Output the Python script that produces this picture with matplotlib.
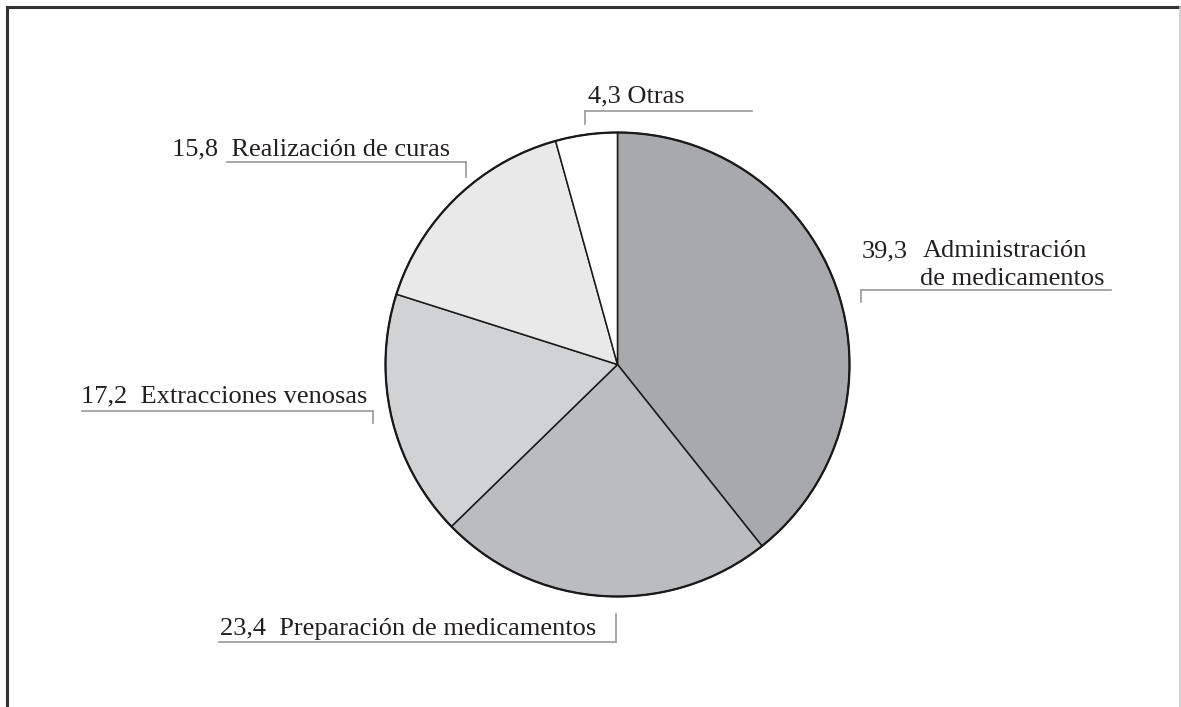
import matplotlib
matplotlib.use("Agg")
import matplotlib.pyplot as plt
from matplotlib.lines import Line2D

categories = ["Administración\nde medicamentos", "Preparación de medicamentos",
              "Extracciones venosas", "Realización de curas", "Otras"]
values = [39.3, 23.4, 17.2, 15.8, 4.3]
value_labels = ["39,3", "23,4", "17,2", "15,8", "4,3"]
colors = ["#a8a9ad", "#bbbcbf", "#d1d2d4", "#e8e9e8", "#ffffff"]

W, H = 1181, 707
fig = plt.figure(figsize=(W / 100, H / 100), dpi=100)
ax = fig.add_axes([0, 0, 1, 1])
ax.set_xlim(0, W)
ax.set_ylim(0, H)
ax.set_aspect("equal")
ax.axis("off")

def Y(y):
    return H - y

cx, cy, r = 617.5, 364.5, 232
wedges, _ = ax.pie(values, colors=colors, startangle=90, counterclock=False,
                   center=(cx, Y(cy)), radius=r,
                   wedgeprops=dict(edgecolor="#1a1a1a", linewidth=1.1))
circ = plt.Circle((cx, Y(cy)), r, fill=False, edgecolor="#1a1a1a", linewidth=1.6)
ax.add_patch(circ)
ax.set_xlim(0, W)
ax.set_ylim(0, H)

font = dict(family="Liberation Serif", size=19, color="#231f20")
lc = "#9a9a9a"

def leader(x0, x1, yl, xt, yt):
    ax.add_line(Line2D([x0, x1], [Y(yl), Y(yl)], color=lc, lw=1.2))
    ax.add_line(Line2D([xt, xt], [Y(yl), Y(yt)], color=lc, lw=1.2))

# Otras
ax.text(588, Y(102), f"{value_labels[4]} {categories[4]}", va="baseline", ha="left", **font)
leader(585, 752, 111, 585, 124)
# Realización
ax.text(172, Y(155), f"{value_labels[3]}  {categories[3]}", va="baseline", ha="left", **font)
leader(227, 466, 162, 466, 177)
# Administración
ax.text(862, Y(257), f"{value_labels[0]}", va="baseline", ha="left", **font)
c0a, c0b = categories[0].split("\n")
ax.text(923, Y(257), c0a, va="baseline", ha="left", **font)
ax.text(920, Y(285), c0b, va="baseline", ha="left", **font)
leader(861, 1111, 290, 861, 302)
# Extracciones
ax.text(81, Y(402), f"{value_labels[2]}  {categories[2]}", va="baseline", ha="left", **font)
leader(82, 373, 411, 373, 423)
# Preparación
ax.text(220, Y(635), f"{value_labels[1]}  {categories[1]}", va="baseline", ha="left", **font)
leader(219, 616, 642, 616, 614)

# frame
ax.add_line(Line2D([7, 7], [Y(7), 0], color="#333333", lw=2.2))
ax.add_line(Line2D([7, 1180], [Y(7), Y(7)], color="#333333", lw=2.2))
ax.add_line(Line2D([1180, 1180], [Y(7), 0], color="#cccccc", lw=1.2))

fig.savefig("out.png", dpi=100)
